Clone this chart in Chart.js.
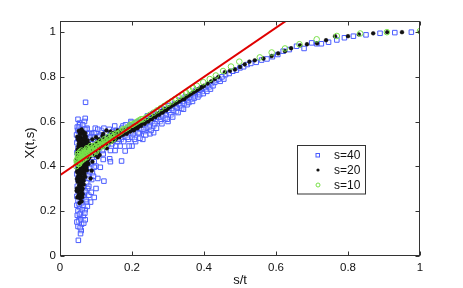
<!DOCTYPE html>
<html>
<head>
<meta charset="utf-8">
<script src="https://cdn.jsdelivr.net/npm/chart.js@4/dist/chart.umd.min.js"></script>
<style>
  html, body { margin: 0; padding: 0; background: #fff; }
  canvas { display: block; }
</style>
</head>
<body>
<canvas id="chart" width="463" height="288"></canvas>
<script>
// ticks des axes
const xTicks = [0, 0.2, 0.4, 0.6, 0.8, 1];
const yTicks = [0, 0.2, 0.4, 0.6, 0.8, 1];
const legendLabels = ['s=40', 's=20', 's=10'];

// droite rouge (deux extremites)
const lineX = [0, 1];
const lineY = [0.36, 1.46];

// s=40 (carres bleus)
const s40Points = [
  [0.071,0.686],[0.07,0.614],[0.054,0.594],[0.05,0.61],[0.068,0.60],[0.055,0.585],[0.075,0.57],[0.058,0.57],
  [0.048,0.575],[0.075,0.565],[0.052,0.555],[0.065,0.55],[0.082,0.548],[0.046,0.54],[0.058,0.535],[0.071,0.53],
  [0.09,0.545],[0.05,0.52],[0.062,0.515],[0.078,0.52],[0.047,0.505],[0.056,0.495],[0.068,0.5],[0.085,0.51],
  [0.05,0.48],[0.06,0.47],[0.074,0.48],[0.047,0.46],[0.058,0.45],[0.07,0.455],[0.082,0.46],[0.05,0.44],
  [0.064,0.43],[0.077,0.425],[0.09,0.44],[0.048,0.415],[0.056,0.405],[0.068,0.40],[0.08,0.395],[0.095,0.42],
  [0.05,0.39],[0.06,0.38],[0.072,0.375],[0.085,0.39],[0.1,0.4],[0.047,0.365],[0.056,0.355],[0.066,0.35],
  [0.078,0.36],[0.09,0.37],[0.05,0.34],[0.06,0.33],[0.074,0.325],[0.088,0.34],[0.048,0.31],[0.057,0.30],
  [0.066,0.305],[0.08,0.31],[0.05,0.29],[0.062,0.28],[0.072,0.285],[0.047,0.265],[0.056,0.255],[0.068,0.26],
  [0.08,0.27],[0.05,0.245],[0.06,0.235],[0.075,0.24],[0.047,0.225],[0.055,0.215],[0.065,0.22],[0.05,0.2],
  [0.058,0.19],[0.07,0.205],[0.048,0.18],[0.056,0.17],[0.065,0.175],[0.052,0.155],[0.06,0.14],[0.05,0.13],
  [0.059,0.112],[0.056,0.125],[0.051,0.068],[0.085,0.239],[0.087,0.283],[0.105,0.345],[0.122,0.333],[0.112,0.395],
  [0.138,0.433],[0.14,0.42],[0.12,0.43],
  [0.053,0.575],[0.063,0.585],[0.049,0.56],[0.069,0.565],[0.076,0.545],[0.084,0.53],[0.095,0.55],[0.061,0.5],
  [0.083,0.49],[0.088,0.47],[0.094,0.48],[0.092,0.45],[0.087,0.42],[0.095,0.395],[0.083,0.375],[0.093,0.355],
  [0.081,0.345],[0.077,0.3],[0.069,0.29],[0.064,0.265],[0.072,0.25],[0.053,0.23],[0.062,0.205],[0.054,0.185],
  [0.069,0.19],[0.058,0.16],[0.047,0.15],[0.066,0.145],[0.057,0.098],[0.076,0.22],[0.07,0.16],[0.1,0.3],[0.095,0.26],
  [0.09,0.50],[0.095,0.53],[0.1,0.46],[0.1,0.55],[0.105,0.51],[0.11,0.48],[0.11,0.535],[0.115,0.56],
  [0.12,0.50],[0.12,0.455],[0.125,0.53],[0.13,0.49],[0.13,0.55],[0.135,0.515],[0.14,0.47],[0.14,0.54],
  [0.145,0.50],[0.15,0.525],[0.152,0.58],[0.155,0.49],[0.16,0.535],[0.16,0.51],[0.165,0.55],[0.17,0.52],
  [0.171,0.423],[0.175,0.58],[0.181,0.468],[0.18,0.535],[0.185,0.55],[0.19,0.52],[0.19,0.575],[0.195,0.545],
  [0.2,0.595],[0.2,0.53],[0.2,0.49],[0.205,0.58],[0.21,0.555],[0.21,0.51],[0.215,0.575],[0.22,0.545],
  [0.22,0.6],[0.225,0.565],[0.23,0.585],[0.23,0.52],[0.235,0.555],[0.24,0.595],[0.24,0.57],[0.245,0.61],
  [0.25,0.585],[0.25,0.545],[0.255,0.6],[0.26,0.615],[0.26,0.58],[0.26,0.55],[0.265,0.63],[0.27,0.6],
  [0.275,0.62],[0.28,0.64],[0.28,0.61],[0.285,0.625],[0.29,0.645],[0.295,0.63],[0.3,0.65],[0.3,0.6],
  [0.305,0.64],[0.31,0.66],[0.315,0.65],[0.32,0.67],[0.325,0.66],[0.33,0.68],[0.335,0.67],[0.34,0.69],
  [0.345,0.68],[0.35,0.70],[0.355,0.69],[0.36,0.71],[0.365,0.70],[0.37,0.72],[0.375,0.715],[0.38,0.73],
  [0.385,0.725],[0.39,0.74],[0.395,0.735],[0.4,0.75],[0.405,0.745],[0.41,0.76],[0.415,0.755],[0.42,0.77],
  [0.098,0.57],[0.105,0.565],[0.108,0.53],[0.115,0.52],[0.118,0.47],[0.122,0.57],[0.127,0.545],[0.133,0.5],
  [0.137,0.565],[0.142,0.52],[0.147,0.555],[0.153,0.47],[0.157,0.56],[0.162,0.52],[0.167,0.49],[0.172,0.57],
  [0.177,0.51],[0.182,0.585],[0.187,0.53],[0.192,0.49],[0.197,0.60],[0.203,0.545],[0.207,0.52],[0.212,0.595],
  [0.217,0.55],[0.222,0.525],[0.227,0.60],[0.232,0.565],[0.238,0.54],[0.243,0.625],[0.248,0.575],[0.253,0.56],
  [0.258,0.635],[0.263,0.59],[0.268,0.57],[0.273,0.645],[0.278,0.60],[0.283,0.59],[0.288,0.655],[0.293,0.615],
  [0.298,0.61],[0.303,0.67],[0.308,0.63],[0.313,0.62],[0.318,0.68],[0.323,0.645],[0.328,0.64],[0.333,0.695],
  [0.338,0.66],[0.343,0.655],[0.348,0.71],[0.353,0.675],[0.358,0.685],[0.363,0.72],[0.368,0.69],[0.373,0.705],
  [0.378,0.74],[0.383,0.71],[0.388,0.72],[0.393,0.75],[0.398,0.725],[0.408,0.735],[0.418,0.745],[0.425,0.76],
  [0.435,0.785],[0.445,0.78],[0.455,0.79],
  [0.43,0.775],[0.44,0.79],[0.45,0.80],[0.46,0.81],[0.47,0.815],[0.48,0.825],[0.49,0.83],[0.5,0.84],
  [0.51,0.845],[0.52,0.855],[0.53,0.86],[0.545,0.865],[0.56,0.875],[0.575,0.88],[0.59,0.89],[0.605,0.90],
  [0.62,0.915],[0.637,0.922],[0.657,0.937],[0.678,0.927],[0.699,0.952],[0.713,0.948],[0.726,0.948],[0.746,0.955],
  [0.769,0.965],[0.79,0.975],[0.815,0.982],[0.85,0.988],[0.889,0.995],[0.93,0.998],[0.976,1.0]
];

// s=20 (points noirs)
const s20Points = [
  [0.048,0.26],[0.052,0.27],[0.056,0.255],[0.05,0.285],[0.055,0.295],[0.06,0.28],[0.047,0.30],[0.053,0.315],
  [0.058,0.31],[0.063,0.30],[0.049,0.33],[0.055,0.34],[0.06,0.325],[0.066,0.335],[0.05,0.355],[0.056,0.36],
  [0.062,0.35],[0.068,0.365],[0.047,0.375],[0.053,0.38],[0.059,0.37],[0.065,0.385],[0.071,0.39],[0.05,0.40],
  [0.056,0.405],[0.062,0.395],[0.068,0.41],[0.074,0.405],[0.048,0.42],[0.054,0.43],[0.06,0.425],[0.066,0.435],
  [0.072,0.44],[0.078,0.43],[0.05,0.45],[0.056,0.455],[0.062,0.46],[0.068,0.45],[0.074,0.465],[0.08,0.455],
  [0.049,0.475],[0.055,0.48],[0.061,0.47],[0.067,0.485],[0.073,0.49],[0.079,0.48],[0.052,0.50],[0.058,0.505],
  [0.064,0.495],[0.07,0.51],[0.076,0.50],[0.05,0.52],[0.057,0.53],[0.063,0.52],[0.069,0.535],[0.055,0.545],
  [0.061,0.55],[0.067,0.54],[0.06,0.565],[0.085,0.345],[0.09,0.42],[0.088,0.38],
  [0.051,0.262],[0.058,0.268],[0.063,0.275],[0.046,0.29],[0.052,0.302],[0.061,0.292],[0.066,0.318],[0.057,0.322],
  [0.047,0.343],[0.053,0.352],[0.059,0.338],[0.064,0.347],[0.07,0.352],[0.051,0.368],[0.057,0.375],[0.063,0.367],
  [0.069,0.378],[0.075,0.382],[0.049,0.388],[0.055,0.392],[0.061,0.384],[0.067,0.398],[0.073,0.395],[0.079,0.41],
  [0.052,0.412],[0.058,0.418],[0.064,0.41],[0.07,0.425],[0.076,0.418],[0.082,0.44],[0.047,0.435],[0.053,0.442],
  [0.059,0.44],[0.065,0.447],[0.071,0.452],[0.077,0.447],[0.083,0.465],[0.048,0.462],[0.054,0.468],[0.06,0.463],
  [0.066,0.472],[0.072,0.476],[0.078,0.47],[0.084,0.485],[0.051,0.488],[0.057,0.492],[0.063,0.486],[0.069,0.497],
  [0.075,0.49],[0.081,0.50],[0.053,0.512],[0.059,0.516],[0.065,0.509],[0.071,0.52],[0.077,0.515],[0.048,0.532],
  [0.054,0.525],[0.066,0.525],[0.072,0.532],[0.058,0.545],[0.064,0.555],[0.07,0.548],[0.052,0.558],[0.056,0.272],
  [0.062,0.262],[0.06,0.242],[0.054,0.235],
  [0.085,0.46],[0.09,0.485],[0.095,0.47],[0.1,0.49],[0.105,0.465],[0.11,0.50],[0.115,0.485],[0.12,0.51],
  [0.125,0.495],[0.13,0.52],[0.135,0.505],[0.14,0.525],[0.145,0.51],[0.15,0.535],[0.155,0.52],[0.16,0.54],
  [0.165,0.53],[0.17,0.55],[0.175,0.54],[0.18,0.555],[0.185,0.545],[0.19,0.565],[0.195,0.555],[0.2,0.57],
  [0.205,0.56],[0.21,0.58],[0.215,0.57],[0.22,0.585],[0.225,0.58],[0.23,0.595],[0.235,0.59],[0.24,0.605],
  [0.245,0.60],[0.25,0.615],[0.255,0.61],[0.26,0.625],[0.265,0.62],[0.27,0.635],[0.275,0.63],[0.28,0.645],
  [0.285,0.64],[0.29,0.655],[0.295,0.65],[0.3,0.66],[0.305,0.665],[0.31,0.67],[0.315,0.675],[0.32,0.68],
  [0.325,0.685],[0.33,0.69],[0.335,0.695],[0.34,0.70],[0.345,0.70],[0.35,0.71],[0.355,0.715],[0.36,0.72],
  [0.365,0.725],[0.37,0.73],[0.375,0.735],[0.38,0.74],[0.385,0.745],[0.39,0.75],[0.395,0.755],[0.4,0.76],
  [0.41,0.77],[0.42,0.78],[0.43,0.79],[0.44,0.80],
  [0.088,0.47],[0.093,0.495],[0.098,0.475],[0.102,0.505],[0.108,0.48],[0.113,0.515],[0.118,0.49],[0.123,0.52],
  [0.128,0.50],[0.133,0.53],[0.138,0.515],[0.143,0.535],[0.148,0.52],[0.153,0.545],[0.158,0.53],[0.163,0.55],
  [0.168,0.54],[0.173,0.56],[0.178,0.548],[0.183,0.565],[0.188,0.553],[0.193,0.572],[0.198,0.562],[0.203,0.578],
  [0.208,0.568],[0.213,0.585],[0.218,0.578],[0.228,0.59],[0.238,0.598],[0.248,0.608],[0.258,0.62],[0.268,0.628],
  [0.278,0.638],[0.288,0.648],[0.298,0.658],[0.118,0.535],[0.108,0.52],[0.15,0.55],[0.16,0.56],[0.097,0.45],[0.105,0.44],
  [0.1,0.53],[0.12,0.545],[0.129,0.56],[0.14,0.555],[0.09,0.52],[0.11,0.45],[0.13,0.48],
  [0.458,0.821],[0.472,0.827],[0.486,0.833],[0.5,0.844],[0.513,0.856],[0.526,0.868],[0.541,0.874],[0.565,0.882],
  [0.588,0.893],[0.606,0.905],[0.625,0.915],[0.642,0.928],[0.667,0.941],[0.686,0.946],[0.714,0.95],[0.739,0.964],
  [0.764,0.982],[0.80,0.982],[0.83,0.99],[0.87,0.995],[0.909,1.0],[0.95,1.0],[1.0,1.0]
];

// s=10 (cercles verts)
const s10Points = [
  [0.045,0.40],[0.047,0.415],[0.048,0.43],[0.05,0.445],[0.05,0.41],[0.052,0.425],[0.054,0.44],[0.055,0.455],
  [0.057,0.42],[0.058,0.435],[0.06,0.45],[0.062,0.44],[0.064,0.43],[0.066,0.455],[0.068,0.445],[0.07,0.46],
  [0.073,0.45],[0.076,0.465],[0.08,0.46],[0.084,0.47],[0.088,0.475],[0.092,0.47],[0.096,0.48],[0.1,0.485],
  [0.06,0.47],[0.075,0.48],[0.09,0.455],[0.1,0.465],[0.12,0.49],[0.085,0.49],
  [0.046,0.425],[0.049,0.455],[0.053,0.41],[0.056,0.465],[0.059,0.425],[0.063,0.46],[0.067,0.435],[0.071,0.47],
  [0.074,0.44],[0.078,0.475],[0.082,0.455],[0.086,0.48],[0.094,0.49],[0.098,0.47],[0.103,0.50],[0.108,0.48],
  [0.113,0.51],[0.118,0.495],[0.123,0.52],[0.128,0.50],[0.133,0.53],[0.138,0.51],[0.143,0.54],[0.148,0.52],
  [0.155,0.545],[0.165,0.55],[0.175,0.565],[0.185,0.57],[0.195,0.585],[0.205,0.59],[0.215,0.60],[0.225,0.61],
  [0.105,0.49],[0.11,0.495],[0.115,0.50],[0.12,0.505],[0.125,0.51],[0.13,0.515],[0.135,0.52],[0.14,0.525],
  [0.145,0.53],[0.15,0.535],[0.16,0.545],[0.17,0.555],[0.18,0.565],[0.19,0.575],[0.2,0.585],[0.21,0.595],
  [0.22,0.605],[0.23,0.61],[0.24,0.62],[0.25,0.63],[0.26,0.64],[0.27,0.65],[0.28,0.66],[0.29,0.67],
  [0.3,0.68],[0.31,0.69],[0.32,0.70],[0.33,0.71],[0.34,0.72],[0.35,0.73],[0.36,0.74],[0.37,0.75],
  [0.38,0.76],[0.398,0.776],[0.416,0.79],[0.433,0.806],[0.453,0.826],[0.475,0.846],[0.498,0.868],[0.555,0.887],
  [0.588,0.909],[0.625,0.927],[0.665,0.946],[0.713,0.968],[0.769,0.983],[0.834,0.994],[0.908,1.0],[1.0,1.005]
];

const toXY = pts => pts.map(p => ({ x: p[0], y: p[1] }));
const fmtTick = v => String(Number(v.toFixed(2)));

// cadre, ticks internes, titres et legende
const boxPlugin = {
  id: 'boxPlugin',
  afterDraw(chart) {
    const ctx = chart.ctx;
    const a = chart.chartArea;
    const sx = chart.scales.x, sy = chart.scales.y;
    const L = Math.round(a.left) + 0.5, R = Math.round(a.right) - 0.5;
    const T = Math.round(a.top) + 0.5, B = Math.round(a.bottom) - 0.5;
    ctx.save();
    ctx.strokeStyle = '#333';
    ctx.lineWidth = 1;
    ctx.strokeRect(L, T, R - L, B - T);
    ctx.beginPath();
    xTicks.forEach(v => {
      const px = Math.round(sx.getPixelForValue(v)) + 0.5;
      ctx.moveTo(px, B); ctx.lineTo(px, B - 4);
      ctx.moveTo(px, T); ctx.lineTo(px, T + 4);
    });
    yTicks.forEach(v => {
      const py = Math.round(sy.getPixelForValue(v)) + 0.5;
      ctx.moveTo(L, py); ctx.lineTo(L + 4, py);
      ctx.moveTo(R, py); ctx.lineTo(R - 4, py);
    });
    ctx.stroke();

    // titres des axes
    ctx.fillStyle = '#111';
    ctx.font = '13px "Liberation Sans", Arial, sans-serif';
    ctx.textAlign = 'center';
    ctx.textBaseline = 'middle';
    ctx.fillText('s/t', (a.left + a.right) / 2, 280);
    ctx.translate(30, 143);
    ctx.rotate(-Math.PI / 2);
    ctx.fillText('X(t,s)', 0, 0);
    ctx.restore();

    // legende
    ctx.save();
    ctx.fillStyle = '#fff';
    ctx.fillRect(297.5, 145.5, 68, 48.5);
    ctx.strokeStyle = '#333';
    ctx.lineWidth = 1;
    ctx.strokeRect(297.5, 145.5, 68, 48.5);
    const rows = [155, 170, 185];
    ctx.font = '12px "Liberation Sans", Arial, sans-serif';
    ctx.textAlign = 'left';
    ctx.textBaseline = 'middle';
    legendLabels.forEach((lab, i) => {
      const y = rows[i];
      if (i === 0) {
        ctx.strokeStyle = '#4a5cff';
        ctx.strokeRect(316, y - 1.5, 3.5, 3.5);
      } else if (i === 1) {
        ctx.fillStyle = '#111';
        ctx.beginPath(); ctx.arc(318, y, 1.6, 0, Math.PI * 2); ctx.fill();
      } else {
        ctx.strokeStyle = '#78e048';
        ctx.beginPath(); ctx.arc(318, y, 2, 0, Math.PI * 2); ctx.stroke();
      }
      ctx.fillStyle = '#111';
      ctx.fillText(lab, 334, y + 0.5);
    });
    ctx.restore();
  }
};

new Chart(document.getElementById('chart').getContext('2d'), {
  type: 'scatter',
  data: {
    datasets: [
      {
        type: 'line',
        label: 'fit',
        data: lineX.map((x, i) => ({ x: x, y: lineY[i] })),
        borderColor: '#e00000',
        borderWidth: 2,
        pointRadius: 0,
        fill: false
      },
      {
        label: legendLabels[2],
        data: toXY(s10Points),
        pointStyle: 'circle',
        pointRadius: 2.8,
        borderColor: '#78e048',
        backgroundColor: 'rgba(0,0,0,0)',
        borderWidth: 1
      },
      {
        label: legendLabels[1],
        data: toXY(s20Points),
        pointStyle: 'circle',
        pointRadius: 1.9,
        borderColor: '#111',
        backgroundColor: '#111',
        borderWidth: 0.5
      },
      {
        label: legendLabels[0],
        data: toXY(s40Points),
        pointStyle: 'rect',
        pointRadius: 3.2,
        borderColor: '#4a5cff',
        backgroundColor: 'rgba(255,255,255,0.3)',
        borderWidth: 1
      }
    ]
  },
  options: {
    responsive: false,
    animation: false,
    layout: { padding: { top: 21, right: 43, left: 0, bottom: 0 } },
    plugins: {
      legend: { display: false },
      tooltip: { enabled: false }
    },
    scales: {
      x: {
        type: 'linear',
        min: 0,
        max: 1,
        grid: { display: false, drawTicks: false },
        border: { display: false },
        afterFit: s => { s.height = 32.5; },
        afterBuildTicks: s => { s.ticks = xTicks.map(v => ({ value: v })); },
        ticks: {
          padding: 5,
          color: '#111',
          maxRotation: 0,
          callback: fmtTick,
          font: { family: '"Liberation Sans", Arial, sans-serif', size: 11.5 }
        }
      },
      y: {
        type: 'linear',
        min: 0,
        max: 1.05,
        grid: { display: false, drawTicks: false },
        border: { display: false },
        afterFit: s => { s.width = 60; },
        afterBuildTicks: s => { s.ticks = yTicks.map(v => ({ value: v })); },
        ticks: {
          padding: 4,
          color: '#111',
          callback: fmtTick,
          font: { family: '"Liberation Sans", Arial, sans-serif', size: 11.5 }
        }
      }
    }
  },
  plugins: [boxPlugin]
});
</script>
</body>
</html>
